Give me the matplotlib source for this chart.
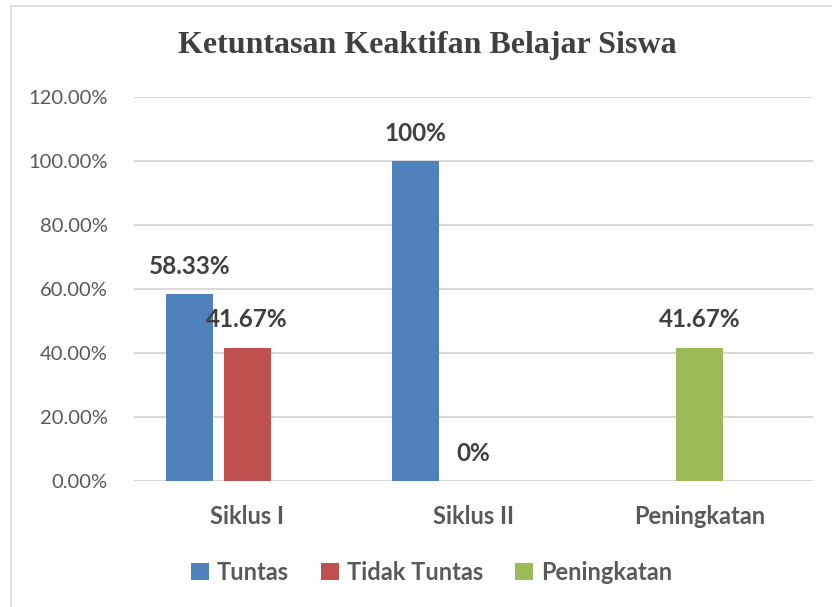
import numpy as np
import matplotlib
matplotlib.use("Agg")
import matplotlib.pyplot as plt
from matplotlib.patches import Rectangle, Patch

categories = ["Siklus I", "Siklus II", "Peningkatan"]
series_names = ["Tuntas", "Tidak Tuntas", "Peningkatan"]
tuntas = [58.33, 100.0, np.nan]
tidak_tuntas = [41.67, 0.0, np.nan]
peningkatan = [np.nan, np.nan, 41.67]
label_texts = {
    "Tuntas": ["58.33%", "100%", None],
    "Tidak Tuntas": ["41.67%", "0%", None],
    "Peningkatan": [None, None, "41.67%"],
}
yticks = [0, 20, 40, 60, 80, 100, 120]

colors = {"Tuntas": "#4F81BD", "Tidak Tuntas": "#C0504D", "Peningkatan": "#9BBB59"}
offsets = {"Tuntas": -0.256, "Tidak Tuntas": 0.0, "Peningkatan": 0.0}
values = {"Tuntas": tuntas, "Tidak Tuntas": tidak_tuntas, "Peningkatan": peningkatan}

W, H = 832, 607
fig = plt.figure(figsize=(W / 100, H / 100), dpi=100)
fig.patch.set_facecolor("white")

# outer chart border (light gray)
fig.patches.append(Rectangle((11 / W, -0.1), 1.2, 1 - 6 / H + 0.1, transform=fig.transFigure,
                             fill=False, edgecolor="#D9D9D9", lw=1.2))

ax = fig.add_axes([134 / W, (H - 481) / H, (813 - 134) / W, (481 - 97) / H])
ax.set_xlim(-0.5, 2.5)
ax.set_ylim(0, 120)

bw = 0.2077
x = np.arange(len(categories))
sans = ["Lato", "DejaVu Sans"]
for name in series_names:
    vals = np.array(values[name], dtype=float)
    pos = x + offsets[name]
    ax.bar(pos, vals, width=bw, color=colors[name], zorder=3)
    for xi, v, t in zip(pos, vals, label_texts[name]):
        if t is None or np.isnan(v):
            continue
        ax.annotate(t, (xi, v), xytext=(0, 20), textcoords="offset points",
                    ha="center", va="center", fontsize=17.5, fontweight="bold",
                    color="#404040", family=sans)

ax.set_yticks(yticks)
ax.set_yticklabels([f"{v:.2f}%" for v in yticks], fontsize=14.5, color="#595959", family=sans)
ax.set_xticks(x)
ax.set_xticklabels(categories, fontsize=17, fontweight="bold", color="#595959", family=sans)
ax.tick_params(axis="both", length=0)
ax.tick_params(axis="x", pad=17)
ax.tick_params(axis="y", pad=19)
ax.grid(axis="y", color="#D9D9D9", lw=1.5, zorder=0)
for s in ax.spines.values():
    s.set_visible(False)

fig.text(427.5 / W, 1 - 46 / H, "Ketuntasan Keaktifan Belajar Siswa", ha="center", va="center",
         fontsize=23, fontweight="bold", color="#404040", family="Liberation Serif")

handles = [Patch(facecolor=colors[n], edgecolor="none") for n in series_names]
leg = fig.legend(handles, series_names, loc="center", bbox_to_anchor=(431.5 / W, 1 - 572 / H),
                 ncol=3, frameon=False, handlelength=0.75, handleheight=0.75,
                 handletextpad=0.35, columnspacing=1.35,
                 prop={"family": sans, "size": 17, "weight": "bold"})
for t in leg.get_texts():
    t.set_color("#595959")

fig.savefig("out.png", dpi=100)
